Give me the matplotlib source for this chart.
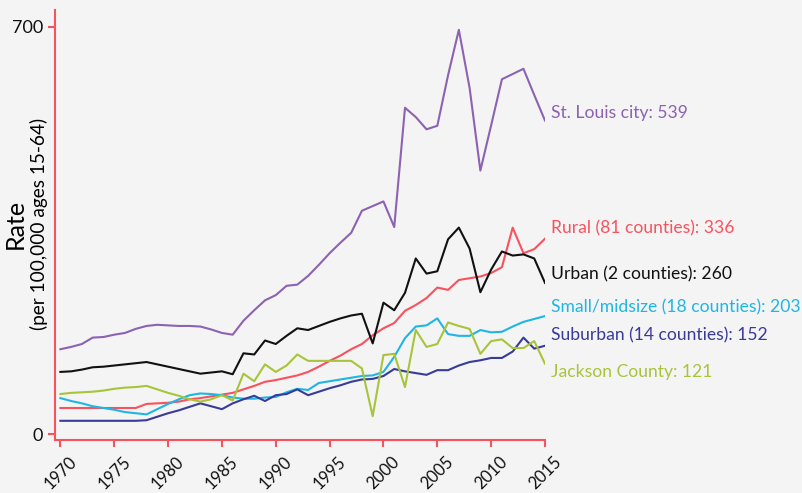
import matplotlib
matplotlib.use("Agg")
import matplotlib.pyplot as plt

years = list(range(1970, 2016))

st_louis = [146, 150, 155, 166, 167, 171, 174, 181, 186, 188, 187, 186, 186, 185, 180, 174,
            171, 195, 213, 230, 239, 255, 257, 272, 291, 311, 329, 346, 384, 392, 400, 356,
            561, 545, 524, 530, 617, 695, 595, 453, 531, 610, 619, 628, 583, 539]
rural = [45, 45, 45, 45, 45, 45, 45, 45, 52, 53, 54, 56, 60, 62, 65, 68,
         71, 77, 83, 90, 93, 97, 101, 107, 116, 126, 135, 146, 155, 170, 182, 191,
         212, 222, 234, 252, 248, 265, 268, 271, 277, 287, 355, 311, 318, 336]
urban = [107, 108, 111, 115, 116, 118, 120, 122, 124, 120, 116, 112, 108, 104, 106, 108,
         103, 139, 137, 161, 155, 169, 182, 179, 186, 193, 199, 204, 207, 156, 226, 213,
         243, 302, 276, 280, 335, 355, 319, 244, 283, 314, 307, 309, 302, 260]
small_mid = [62, 57, 53, 48, 45, 42, 38, 36, 34, 43, 52, 60, 67, 70, 69, 67,
             63, 61, 61, 63, 64, 72, 78, 76, 88, 91, 94, 97, 100, 101, 107, 133,
             165, 185, 187, 199, 172, 169, 169, 179, 175, 176, 185, 193, 198, 203]
suburban = [23, 23, 23, 23, 23, 23, 23, 23, 24, 30, 36, 41, 47, 53, 48, 43,
            53, 60, 66, 57, 67, 69, 77, 67, 73, 79, 84, 90, 94, 95, 100, 112,
            108, 105, 102, 110, 110, 118, 124, 127, 131, 131, 142, 166, 147, 152]
jackson = [69, 71, 72, 73, 75, 78, 80, 81, 83, 77, 71, 66, 60, 56, 60, 67,
           58, 104, 91, 120, 107, 118, 137, 126, 126, 126, 126, 126, 113, 31, 136, 138,
           81, 179, 150, 155, 192, 186, 181, 138, 160, 163, 148, 148, 160, 121]

names = ["St. Louis city", "Rural (81 counties)", "Urban (2 counties)",
         "Small/midsize (18 counties)", "Suburban (14 counties)", "Jackson County"]
series = [st_louis, rural, urban, small_mid, suburban, jackson]
colors = ["#8C62B2", "#F8525F", "#111111", "#1FB6E4", "#383B98", "#A8C43A"]
# vertical nudges for the end labels (data units)
nudges = [13, 17, 15, 15, 17, -14]

axis_red = "#F8525F"
bg = "#F4F4F4"

plt.rcParams['font.family'] = ['Lato', 'DejaVu Sans']

fig = plt.figure(figsize=(8.03, 4.93), dpi=100, facecolor=bg)
ax = fig.add_axes([0.0685, 0.1075, 0.6102, 0.8722], facecolor=bg)

for vals, name, col, dy in zip(series, names, colors, nudges):
    ax.plot(years, vals, color=col, lw=1.5)
    ax.text(2015.55, vals[-1] + dy, f"{name}: {vals[-1]}", color=col,
            fontsize=12.6, va="center", ha="left", clip_on=False)

ax.set_xlim(1969.5, 2015)
ax.set_ylim(-10, 729)
ax.set_xticks(range(1970, 2016, 5))
ax.set_yticks([0, 700])
plt.xticks(rotation=45, fontsize=12)
plt.yticks(fontsize=13)

for side in ["top", "right"]:
    ax.spines[side].set_visible(False)
for side in ["left", "bottom"]:
    ax.spines[side].set_color(axis_red)
    ax.spines[side].set_linewidth(1.5)
ax.tick_params(colors=axis_red, width=1.5, length=5, labelcolor="#111111")
ax.tick_params(axis="x", pad=4.5)

fig.text(0.019, 0.545, "Rate", rotation=90, fontsize=18, ha="center", va="center")
fig.text(0.048, 0.545, "(per 100,000 ages 15-64)", rotation=90, fontsize=13.7,
         ha="center", va="center")

fig.savefig("out.png", dpi=100, facecolor=bg)
